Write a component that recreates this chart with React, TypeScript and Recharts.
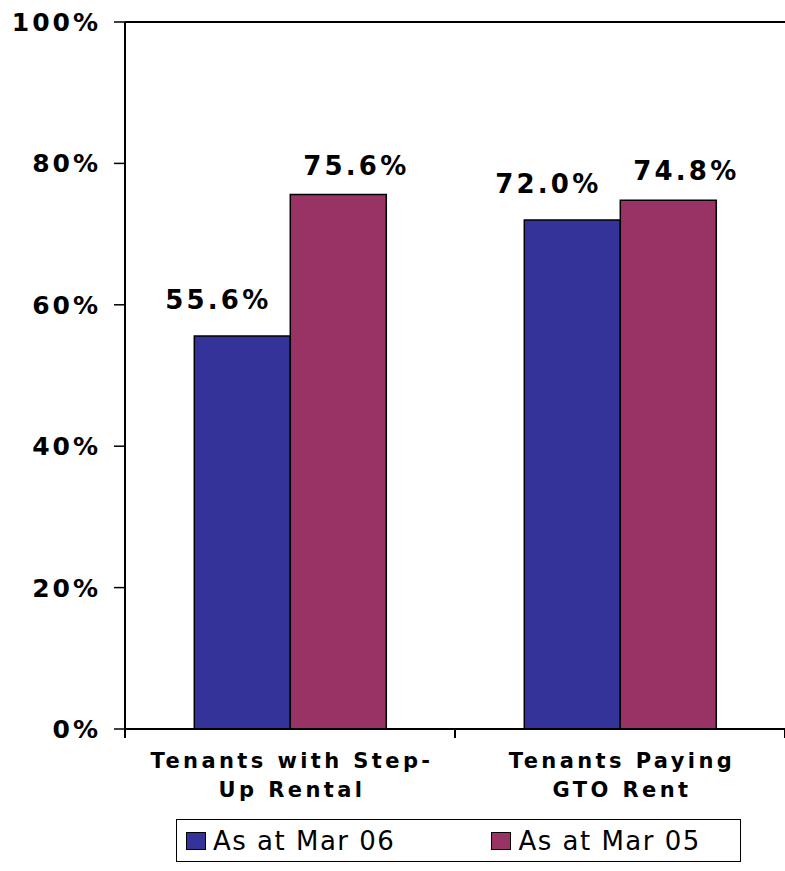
import React from 'react';
import {
  BarChart,
  Bar,
  XAxis,
  YAxis,
  Legend,
  LabelList,
  ReferenceLine,
} from 'recharts';

// share of tenants on step-up rental / GTO rent, Mar 06 vs Mar 05

const categories = ['Tenants with Step-Up Rental', 'Tenants Paying GTO Rent'];
const categoryLines = [
  ['Tenants with Step-', 'Up Rental'],
  ['Tenants Paying', 'GTO Rent'],
];
const mar06 = [55.6, 72.0];
const mar05 = [75.6, 74.8];
const seriesOrder = ['mar06', 'mar05'];
const yTicks = [0, 20, 40, 60, 80, 100];

const data = categories.map((name, i) => ({
  name,
  mar06: mar06[i],
  mar05: mar05[i],
}));

const FONT = '"DejaVu Sans", sans-serif';

function YTick({ x, y, payload }: any) {
  return (
    <text
      x={x}
      y={y}
      dy="0.36em"
      textAnchor="end"
      fontFamily={FONT}
      fontSize={25}
      fontWeight={700}
      letterSpacing={3}
      fill="#000"
    >
      {payload.value}%
    </text>
  );
}

function XTick({ x, y, payload, index }: any) {
  const lines = categoryLines[index] || [payload.value];
  const half = payload.offset || 165;
  return (
    <g>
      <line x1={x - half} y1={y} x2={x - half} y2={y + 9} stroke="#000" strokeWidth={2} />
      <line x1={x + half} y1={y} x2={x + half} y2={y + 9} stroke="#000" strokeWidth={2} />
      {lines.map((l: string, i: number) => (
        <text
          key={i}
          x={x + 2}
          y={y + 39 + i * 29}
          textAnchor="middle"
          fontFamily={FONT}
          fontSize={21}
          fontWeight={700}
          letterSpacing={3.4}
          fill="#000"
        >
          {l}
        </text>
      ))}
    </g>
  );
}

function makeLabel(dx: number, gap: number) {
  return (props: any) => {
    const { x, y, width, value } = props;
    return (
      <text
        x={x + width / 2 + dx}
        y={y - gap}
        textAnchor="middle"
        fontFamily={FONT}
        fontSize={26}
        fontWeight={700}
        letterSpacing={3.2}
        fill="#000"
      >
        {value.toFixed(1)}%
      </text>
    );
  };
}

function LegendBox({ payload }: any) {
  const items = [...(payload || [])].sort(
    (a: any, b: any) => seriesOrder.indexOf(a.dataKey) - seriesOrder.indexOf(b.dataKey)
  );
  return (
    <div
      style={{
        boxSizing: 'border-box',
        width: 565,
        height: 43,
        border: '1.5px solid #000',
        display: 'flex',
        alignItems: 'center',
        paddingLeft: 9,
        fontFamily: FONT,
        fontSize: 26,
        letterSpacing: 1.5,
        color: '#000',
        background: '#fff',
      }}
    >
      {items.map((p: any, i: number) => (
        <div
          key={i}
          style={{ display: 'flex', alignItems: 'center', marginLeft: i === 0 ? 0 : 96 }}
        >
          <span
            style={{
              display: 'inline-block',
              width: 18,
              height: 16,
              background: p.color,
              border: '1.5px solid #000',
              marginRight: 7,
            }}
          />
          <span>{p.value}</span>
        </div>
      ))}
    </div>
  );
}

export default function App() {
  return (
    <div style={{ position: 'absolute', left: 0, top: 0, background: '#fff' }}>
      <BarChart
        width={785}
        height={871}
        data={data}
        margin={{ top: 22, right: 0, left: 0, bottom: 0 }}
        barCategoryGap="21%"
        barGap={0}
      >
        <XAxis
          dataKey="name"
          height={142}
          axisLine={{ stroke: '#000', strokeWidth: 2 }}
          tickLine={false}
          tickSize={0}
          tickMargin={0}
          tick={<XTick />}
          interval={0}
        />
        <YAxis
          width={125}
          domain={[0, 100]}
          ticks={yTicks}
          interval={0}
          axisLine={{ stroke: '#000', strokeWidth: 2 }}
          tickLine={{ stroke: '#000', strokeWidth: 1.5 }}
          tickSize={11}
          tickMargin={13}
          tick={<YTick />}
        />
        <ReferenceLine y={100} stroke="#000" strokeWidth={2} ifOverflow="extendDomain" />
        <Legend
          layout="horizontal"
          verticalAlign="middle"
          align="center"
          content={<LegendBox />}
          wrapperStyle={{ left: 176, top: 819, width: 565, height: 43 }}
        />
        <Bar
          dataKey="mar06"
          name="As at Mar 06"
          fill="#333399"
          stroke="#000"
          strokeWidth={1.5}
          isAnimationActive={false}
        >
          <LabelList dataKey="mar06" content={makeLabel(-24, 27)} />
        </Bar>
        <Bar
          dataKey="mar05"
          name="As at Mar 05"
          fill="#993366"
          stroke="#000"
          strokeWidth={1.5}
          isAnimationActive={false}
        >
          <LabelList dataKey="mar05" content={makeLabel(18, 20)} />
        </Bar>
      </BarChart>
    </div>
  );
}
